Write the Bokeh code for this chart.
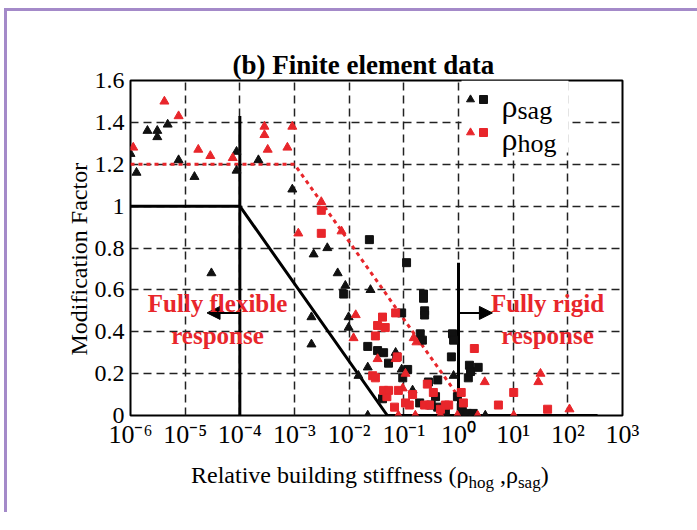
import math
from bokeh.plotting import figure
from bokeh.layouts import column
from bokeh.models import (FixedTicker, Label, Arrow, NormalHead, BoxAnnotation,
                          Legend, LegendItem, CustomJSTickFormatter, Div, Title)
from bokeh.embed import file_html
from bokeh.resources import INLINE

# ---------------- data (x given as log10 of relative stiffness) ----------------
SAG_TRI_LOGX = [-6.00, -5.89, -5.69, -5.51, -5.51, -5.32, -5.12, -4.83, -4.52, -4.06,
                -4.06, -3.66, -3.04, -2.69, -2.69, -2.65, -2.40, -2.21, -2.07, -2.01,
                -2.01, -1.83, -1.66, -1.66, -1.61, -1.15, -1.04, -0.84, -0.09, 0.49]
SAG_TRI_Y = [1.25, 1.16, 1.36, 1.36, 1.33, 1.39, 1.22, 1.14, 0.68, 1.26,
             1.17, 1.22, 1.08, 0.47, 0.34, 0.77, 0.80, 0.68, 0.62, 0.47,
             0.42, 0.19, 0.23, 0.00, 0.60, 0.30, 0.22, 0.12, 0.19, 0.00]

SAG_SQ_LOGX = [-2.10, -1.63, -1.66, -1.48, -1.39, -1.37, -1.28, -1.13, -1.04, -1.02,
               -0.95, -0.93, -0.71, -0.70, -0.66, -0.64, -0.64, -0.62, -0.62, -0.55,
               -0.50, -0.42, -0.38, -0.38, -0.29, -0.24, -0.13, -0.11, -0.09, -0.02,
               0.05, 0.07, 0.16, 0.18, 0.20, 0.22, 0.27, 0.36]
SAG_SQ_Y = [0.58, 0.84, 0.33, 0.31, 0.08, 0.30, 0.25, 0.28, 0.49, 0.18,
            0.73, 0.22, 0.06, 0.39, 0.36, 0.58, 0.56, 0.50, 0.48, 0.16,
            0.05, 0.09, 0.17, 0.04, 0.03, 0.02, 0.28, 0.39, 0.36, 0.09,
            0.04, 0.02, 0.01, 0.18, 0.24, 0.21, 0.01, 0.23]

HOG_TRI_LOGX = [-5.95, -5.38, -5.12, -4.76, -4.54, -4.13, -3.55, -3.55, -3.49, -3.13,
                -3.04, -2.93, -2.51, -2.14, -1.92, -1.88, -1.48, -1.15, -1.10, -1.02,
                -0.97, -0.82, -0.77, -0.79, -0.33, -0.02, 0.35, 0.48, 1.01, 1.46,
                1.50, 2.03]
HOG_TRI_Y = [1.28, 1.50, 1.43, 1.27, 1.24, 1.23, 1.38, 1.34, 1.27, 1.28,
             1.38, 0.87, 1.02, 0.88, 0.37, 0.48, 0.27, 0.27, 0.00, 0.13,
             0.20, 0.37, 0.35, 0.00, 0.00, 0.00, 0.00, 0.16, 0.00, 0.16,
             0.20, 0.03]

HOG_SQ_LOGX = [-2.51, -2.51, -1.57, -1.52, -1.52, -1.48, -1.39, -1.37, -1.34, -1.31,
               -1.28, -1.17, -1.15, -1.12, -1.10, -0.97, -0.90, -0.84, -0.62, -0.57,
               -0.53, -0.46, -0.33, -0.24, -0.18, 0.05, 0.09, 0.29, 0.73, 1.01, 1.63]
HOG_SQ_Y = [0.98, 0.87, 0.19, 0.38, 0.18, 0.43, 0.47, 0.12, 0.42, 0.09,
            0.12, 0.04, 0.49, 0.28, 0.12, 0.06, 0.05, 0.10, 0.05, 0.15,
            0.05, 0.11, 0.03, 0.05, 0.05, 0.11, 0.06, 0.32, 0.05, 0.11, 0.03]

# design curves
SAG_CURVE_X = [1e-6, 1e-4, 0.05, 350.0]
SAG_CURVE_Y = [1.0, 1.0, 0.0, 0.0]
HOG_CURVE_X = [1e-6, 1e-3, 1.0]
HOG_CURVE_Y = [1.2, 1.2, 0.09]
FLEX_LIMIT_X = [1e-4, 1e-4]
FLEX_LIMIT_Y = [0.0, 1.43]
RIGID_LIMIT_X = [1.0, 1.0]
RIGID_LIMIT_Y = [0.0, 0.73]

X_TICKS = [1e-6, 1e-5, 1e-4, 1e-3, 1e-2, 1e-1, 1e0, 1e1, 1e2, 1e3]
Y_TICKS = [0, 0.2, 0.4, 0.6, 0.8, 1.0, 1.2, 1.4, 1.6]

TITLE = "(b) Finite element data"
Y_LABEL = "Modification Factor"
X_LABEL_MAIN = "Relative building stiffness (\u03c1"
X_LABEL_SUB1 = "hog"
X_LABEL_MID = " ,\u03c1"
X_LABEL_SUB2 = "sag"
X_LABEL_END = ")"

RED = "#e8262b"
BLACK = "#111111"
SERIF = "Liberation Serif"
PURPLE = "#a48ac9"

# ---------------- layout helpers (page pixel -> data) ----------------
FL, FR, FT, FB = 130, 622, 80, 415
ORG_X, ORG_Y = 7, 11          # page position of the figure's canvas
FIG_W, FIG_H = 683, 441


def px_x(px):
    return 10 ** (-6 + (px - FL) * 9.0 / (FR - FL))


def px_y(py):
    return (FB - py) * 1.6 / (FB - FT)


p = figure(width=FIG_W, height=FIG_H, x_axis_type="log",
           x_range=(1e-6, 1e3), y_range=(0, 1.6),
           output_backend="svg", toolbar_location=None,
           min_border_left=FL - ORG_X, min_border_right=ORG_X + FIG_W - FR,
           min_border_top=FT - ORG_Y, min_border_bottom=ORG_Y + FIG_H - FB)

p.background_fill_color = "white"
p.border_fill_color = "white"
p.outline_line_color = "black"
p.outline_line_width = 2
p.outline_line_alpha = 1

# title
p.title.text = TITLE
p.title.text_font = SERIF
p.title.text_font_style = "bold"
p.title.text_font_size = "27px"
p.title.align = "left"
p.title.offset = 102
p.title.standoff = 2
p.title.text_color = "black"

# axes
p.xaxis.ticker = FixedTicker(ticks=X_TICKS, minor_ticks=[])
p.yaxis.ticker = FixedTicker(ticks=Y_TICKS, minor_ticks=[])
p.xaxis.formatter = CustomJSTickFormatter(code="""
const e = Math.round(Math.log10(tick));
const sup = {'-':'\u207b','0':'\u2070','1':'\u00b9','2':'\u00b2','3':'\u00b3','4':'\u2074',
             '5':'\u2075','6':'\u2076','7':'\u2077','8':'\u2078','9':'\u2079'};
return '10' + String(e).split('').map(c => sup[c]).join('');
""")
p.yaxis.formatter = CustomJSTickFormatter(code="return String(Math.round(tick*10)/10);")
for ax in (p.xaxis, p.yaxis):
    ax.axis_line_color = None
    ax.major_tick_in = 0
    ax.major_tick_out = 0
    ax.minor_tick_line_color = None
    ax.major_label_text_font = SERIF
    ax.major_label_text_color = "black"
p.xaxis.major_label_text_font_size = "26px"
p.yaxis.major_label_text_font_size = "24px"
p.xaxis.major_label_standoff = 4
p.yaxis.major_label_standoff = 6

# y axis title (side panel title so it can sit slightly below the frame centre)
p.add_layout(Title(text=Y_LABEL, align="left", offset=60, standoff=0,
                   text_font=SERIF, text_font_style="normal", text_font_size="24px",
                   text_color="black", vertical_align="bottom"), "left")

# grid
for g in (p.xgrid, p.ygrid):
    g.grid_line_color = "#222222"
    g.grid_line_dash = "8 5"
    g.grid_line_width = 1.5
    g.grid_line_alpha = 1

# legend white patch (covers grid)
p.add_layout(BoxAnnotation(left=px_x(461), right=px_x(568), bottom=px_y(152), top=1.6,
                           fill_color="white", fill_alpha=1, line_color=None,
                           level="underlay"))

# design curves and limits
p.line(SAG_CURVE_X, SAG_CURVE_Y, line_color="black", line_width=3)
p.line(HOG_CURVE_X, HOG_CURVE_Y, line_color=RED, line_width=3, line_dash="4 4")
p.line(FLEX_LIMIT_X, FLEX_LIMIT_Y, line_color="black", line_width=3)
p.line(RIGID_LIMIT_X, RIGID_LIMIT_Y, line_color="black", line_width=3)

# data points
r_st = p.scatter([10 ** v for v in SAG_TRI_LOGX], SAG_TRI_Y, marker="triangle",
                 size=9, color=BLACK)
r_ss = p.scatter([10 ** v for v in SAG_SQ_LOGX], SAG_SQ_Y, marker="square",
                 size=8, color=BLACK)
r_ht = p.scatter([10 ** v for v in HOG_TRI_LOGX], HOG_TRI_Y, marker="triangle",
                 size=9, color=RED)
r_hs = p.scatter([10 ** v for v in HOG_SQ_LOGX], HOG_SQ_Y, marker="square",
                 size=8, color=RED)

# arrows
p.add_layout(Arrow(end=NormalHead(size=13, fill_color="black", line_color="black"),
                   x_start=1e-4, y_start=0.49, x_end=10 ** -4.6, y_end=0.49,
                   line_color="black", line_width=2))
p.add_layout(Arrow(end=NormalHead(size=13, fill_color="black", line_color="black"),
                   x_start=1.0, y_start=0.49, x_end=10 ** 0.62, y_end=0.49,
                   line_color="black", line_width=2))

# region texts
for txt, cx, by in [("Fully flexible", 217, 303), ("response", 217, 335),
                    ("Fully rigid", 547, 303), ("response", 547, 335)]:
    p.add_layout(Label(x=px_x(cx), y=px_y(by), text=txt, text_align="center",
                       text_baseline="alphabetic", text_font=SERIF,
                       text_font_style="bold", text_font_size="25px", text_color=RED))

# legend: marker columns
common = dict(glyph_width=20, glyph_height=20, spacing=13, padding=5,
              background_fill_alpha=0, border_line_alpha=0,
              label_text_font_size="8px", label_standoff=0, label_width=0)
p.add_layout(Legend(items=[LegendItem(label=" ", renderers=[r_st]),
                           LegendItem(label=" ", renderers=[r_ht])],
                    location=(470 - FL - 15, FB - 84 - 63), **common))
p.add_layout(Legend(items=[LegendItem(label=" ", renderers=[r_ss]),
                           LegendItem(label=" ", renderers=[r_hs])],
                    location=(483 - FL - 15, FB - 84 - 63), **common))

# legend texts
for base, sub, by in [("\u03c1", "sag", 105), ("\u03c1", "hog", 138)]:
    p.add_layout(Label(x=px_x(501), y=px_y(by), text=base, text_align="left",
                       text_baseline="alphabetic", text_font=SERIF,
                       text_font_size="32px", text_color="black"))
    p.add_layout(Label(x=px_x(517), y=px_y(by + 5), text=sub, text_align="left",
                       text_baseline="alphabetic", text_font=SERIF,
                       text_font_size="26px", text_color="black"))

# x axis label (with subscripts) below the figure
sub_style = "font-size:17px;position:relative;top:5px;"
x_label = Div(
    text=("<span style=\"font-family:'Liberation Serif',serif;font-size:24px;"
          "line-height:24px;color:#000;white-space:pre;\">%s"
          "<span style='%s'>%s</span>%s<span style='%s'>%s</span>%s</span>")
    % (X_LABEL_MAIN, sub_style, X_LABEL_SUB1, X_LABEL_MID, sub_style, X_LABEL_SUB2,
       X_LABEL_END),
    width=FIG_W, height=50,
    styles={"padding-left": "%dpx" % (186 - ORG_X), "padding-top": "6px",
            "font-family": "'Liberation Serif', serif"})

layout = column(p, x_label, spacing=0,
                styles={"border-top": "3px solid " + PURPLE,
                        "border-left": "3px solid " + PURPLE,
                        "margin-left": "4px", "margin-top": "8px"})

open("out.html", "w").write(file_html(layout, INLINE))
